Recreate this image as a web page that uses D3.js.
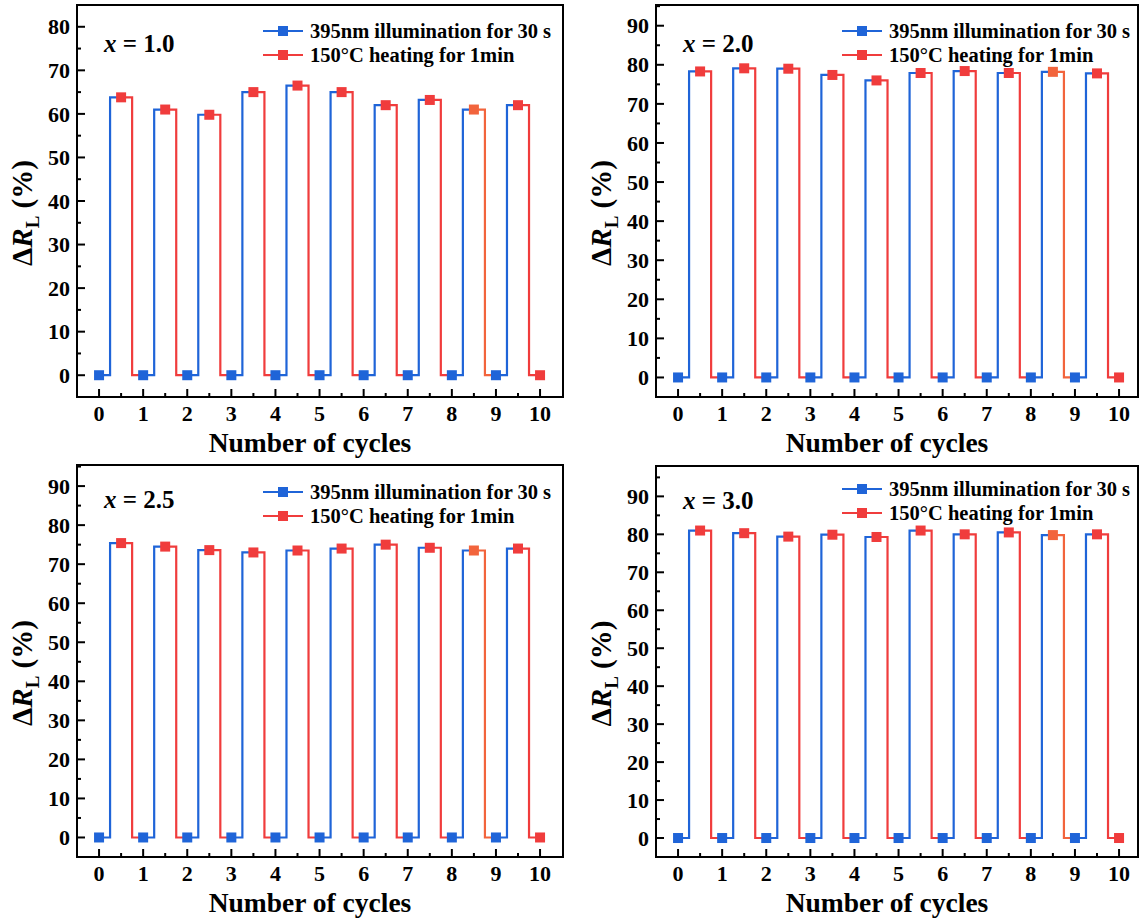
<!DOCTYPE html>
<html>
<head>
<meta charset="utf-8">
<script src="https://cdn.jsdelivr.net/npm/d3@7"></script>
<style>
  body { margin: 0; background: #fff; }
  svg text { font-family: "Liberation Serif", "Times New Roman", serif; font-weight: bold; fill: #000; }
</style>
</head>
<body>
<div id="chart"></div>
<script>
// ---- data ----
const cycles = [0, 1, 2, 3, 4, 5, 6, 7, 8, 9];
const xTicks = [0, 1, 2, 3, 4, 5, 6, 7, 8, 9, 10];
const compositions = ["1.0", "2.0", "2.5", "3.0"];
const seriesNames = ["395nm illumination for 30 s", "150\u00B0C heating for 1min"];

// ΔR_L (%) after each illumination step (the value is reset to 0 by heating)
const valuesX10 = [63.8, 61.0, 59.8, 65.0, 66.5, 65.0, 62.0, 63.2, 61.0, 62.0];
const valuesX20 = [78.3, 79.1, 79.0, 77.4, 76.0, 77.9, 78.4, 77.9, 78.2, 77.8];
const valuesX25 = [75.4, 74.5, 73.6, 73.0, 73.5, 74.0, 75.0, 74.2, 73.5, 74.0];
const valuesX30 = [81.0, 80.3, 79.4, 79.9, 79.3, 81.0, 80.0, 80.5, 79.8, 80.0];
const bleachedValue = 0;

const yTicks80 = [0, 10, 20, 30, 40, 50, 60, 70, 80];
const yTicks90 = [0, 10, 20, 30, 40, 50, 60, 70, 80, 90];

const allValues = [valuesX10, valuesX20, valuesX25, valuesX30];
const allYTicks = [yTicks80, yTicks90, yTicks90, yTicks90];

// ---- layout ----
const panels = [
    { left: 77,  top: 5,   width: 486, height: 392, yDomain: [-5, 85],   legendY: 26 },
    { left: 656, top: 5,   width: 482, height: 392, yDomain: [-5, 95.3], legendY: 26 },
    { left: 77,  top: 465, width: 486, height: 392, yDomain: [-5, 95.4], legendY: 27 },
    { left: 656, top: 466, width: 482, height: 391, yDomain: [-5, 98],   legendY: 23 }
];

const blue = "#1f64d8";
const red = "#f03c3c";
const redAlt = "#f2643c";   // the 9th heating step is drawn slightly orange

const svg = d3.select("#chart").append("svg")
    .attr("width", 1140)
    .attr("height", 920);

panels.forEach((p, k) => {
    const values = allValues[k];
    const g = svg.append("g")
        .attr("transform", "translate(" + p.left + "," + p.top + ")");

    const x = d3.scaleLinear()
        .domain([-0.5, -0.5 + p.width / 44.1])
        .range([0, p.width]);
    const y = d3.scaleLinear()
        .domain(p.yDomain)
        .range([p.height, 0]);

    const line = d3.line()
        .x(d => x(d[0]))
        .y(d => y(d[1]))
        .curve(d3.curveStep);

    // heating segments (red): from coloured state back to 0
    cycles.forEach(i => {
        g.append("path")
            .attr("d", line([[i + 0.5, values[i]], [i + 1, bleachedValue]]))
            .attr("fill", "none")
            .attr("stroke", i === 8 ? redAlt : red)
            .attr("stroke-width", 2.2);
    });
    // illumination segments (blue): from 0 up to coloured state
    cycles.forEach(i => {
        g.append("path")
            .attr("d", line([[i, bleachedValue], [i + 0.5, values[i]]]))
            .attr("fill", "none")
            .attr("stroke", blue)
            .attr("stroke-width", 2.2);
    });

    const ms = 10;
    // red markers at coloured states and final bleach
    const redPts = cycles.map(i => [i + 0.5, values[i], i === 8 ? redAlt : red])
        .concat([[10, bleachedValue, red]]);
    g.selectAll(".mred").data(redPts).enter().append("rect")
        .attr("class", "mred")
        .attr("x", d => x(d[0]) - ms / 2)
        .attr("y", d => y(d[1]) - ms / 2)
        .attr("width", ms).attr("height", ms)
        .attr("fill", d => d[2]);
    // blue markers at bleached states
    g.selectAll(".mblue").data(cycles).enter().append("rect")
        .attr("class", "mblue")
        .attr("x", d => x(d) - ms / 2)
        .attr("y", y(bleachedValue) - ms / 2)
        .attr("width", ms).attr("height", ms)
        .attr("fill", blue);

    // frame
    g.append("rect")
        .attr("width", p.width)
        .attr("height", p.height)
        .attr("fill", "none")
        .attr("stroke", "#000")
        .attr("stroke-width", 2);

    // x ticks (inward), major at integers, minor at halves
    xTicks.forEach(t => {
        g.append("line")
            .attr("x1", x(t)).attr("x2", x(t))
            .attr("y1", p.height).attr("y2", p.height - 8)
            .attr("stroke", "#000").attr("stroke-width", 2);
        g.append("text")
            .attr("x", x(t))
            .attr("y", p.height + 24)
            .attr("text-anchor", "middle")
            .style("font-size", "22px")
            .text(t);
        if (t < 10) {
            g.append("line")
                .attr("x1", x(t + 0.5)).attr("x2", x(t + 0.5))
                .attr("y1", p.height).attr("y2", p.height - 4)
                .attr("stroke", "#000").attr("stroke-width", 2);
        }
    });

    // y ticks (inward), major every 10, minor every 5
    const yTicks = allYTicks[k];
    yTicks.forEach(t => {
        g.append("line")
            .attr("x1", 0).attr("x2", 8)
            .attr("y1", y(t)).attr("y2", y(t))
            .attr("stroke", "#000").attr("stroke-width", 2);
        g.append("text")
            .attr("x", -7)
            .attr("y", y(t))
            .attr("dy", "0.35em")
            .attr("text-anchor", "end")
            .style("font-size", "22px")
            .text(t);
    });
    d3.range(-5, p.yDomain[1], 10).forEach(t => {
        if (t < p.yDomain[0] + 0.1) return;
        g.append("line")
            .attr("x1", 0).attr("x2", 4)
            .attr("y1", y(t)).attr("y2", y(t))
            .attr("stroke", "#000").attr("stroke-width", 2);
    });

    // axis titles
    g.append("text")
        .attr("x", p.width / 2 - 10)
        .attr("y", p.height + 55)
        .attr("text-anchor", "middle")
        .style("font-size", "27.5px")
        .text("Number of cycles");

    const yl = g.append("text")
        .attr("transform", "translate(-45," + (p.height / 2 + 12) + ") rotate(-90)")
        .attr("text-anchor", "middle")
        .style("font-size", "29px");
    yl.append("tspan").text("\u0394");
    yl.append("tspan").style("font-style", "italic").text("R");
    yl.append("tspan").attr("dy", 7).style("font-size", "19px").text("L");
    yl.append("tspan").attr("dy", -7).text(" (%)");

    // composition annotation
    const ann = g.append("text")
        .attr("x", 27)
        .attr("y", p.top < 100 ? 47 : 43)
        .style("font-size", "25px");
    ann.append("tspan").style("font-style", "italic").text("x");
    ann.append("tspan").text(" = " + compositions[k]);

    // legend
    const colors = [blue, red];
    seriesNames.forEach((name, j) => {
        const ly = p.legendY + j * 24;
        g.append("line")
            .attr("x1", 186).attr("x2", 226)
            .attr("y1", ly).attr("y2", ly)
            .attr("stroke", colors[j]).attr("stroke-width", 2.2);
        g.append("rect")
            .attr("x", 206 - ms / 2).attr("y", ly - ms / 2)
            .attr("width", ms).attr("height", ms)
            .attr("fill", colors[j]);
        g.append("text")
            .attr("x", 233)
            .attr("y", ly)
            .attr("dy", "0.35em")
            .style("font-size", "20.5px")
            .text(name);
    });
});
</script>
</body>
</html>
